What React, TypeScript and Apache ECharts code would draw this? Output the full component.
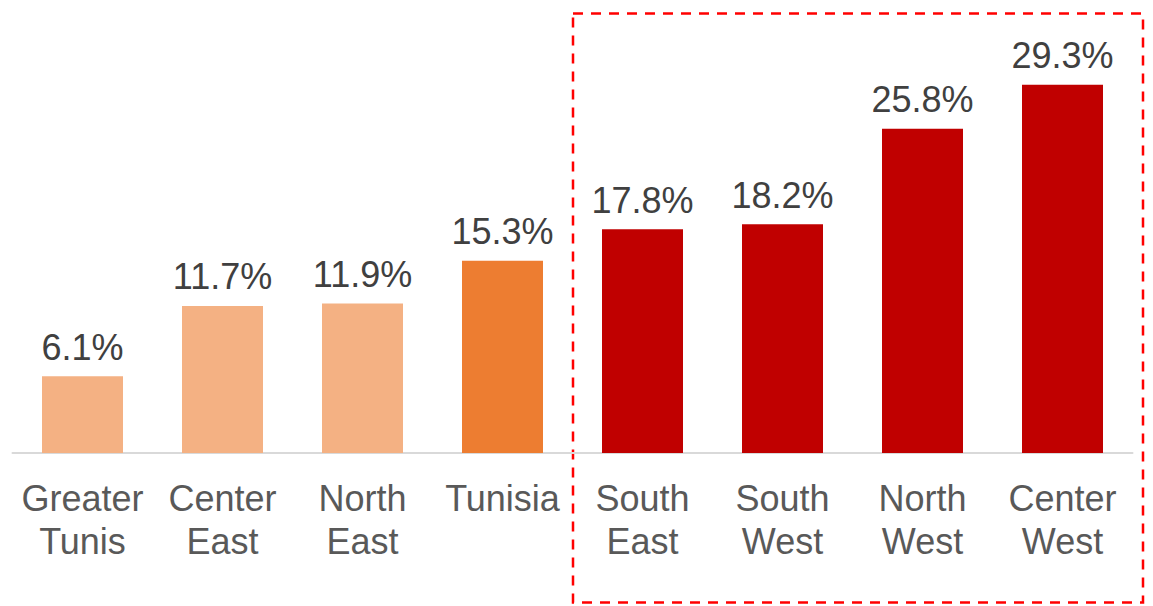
import React, { useEffect, useRef } from "react";
import * as echarts from "echarts";

const categories = [
  "Greater\nTunis",
  "Center\nEast",
  "North\nEast",
  "Tunisia",
  "South\nEast",
  "South\nWest",
  "North\nWest",
  "Center\nWest",
];
const values = [6.1, 11.7, 11.9, 15.3, 17.8, 18.2, 25.8, 29.3];
const groups = ["coastal", "coastal", "coastal", "national", "interior", "interior", "interior", "interior"];

const groupColors: Record<string, string> = {
  coastal: "#F4B183",
  national: "#ED7D31",
  interior: "#C00000",
};

const FONT = "'Liberation Sans', Arial, sans-serif";

export default function App() {
  const ref = useRef<HTMLDivElement>(null);
  useEffect(() => {
    if (!ref.current) return;
    const chart = echarts.init(ref.current, undefined, { renderer: "svg" });
    chart.setOption({
      animation: false,
      backgroundColor: "#ffffff",
      grid: { left: 12.5, right: 20.5, top: 76, bottom: 153, containLabel: false },
      xAxis: {
        type: "category",
        data: categories,
        axisTick: { show: false },
        axisLine: { show: true, lineStyle: { color: "#D9D9D9", width: 2 } },
        axisLabel: {
          color: "#595959",
          fontFamily: FONT,
          fontSize: 36,
          lineHeight: 43,
          margin: 24,
          interval: 0,
        },
      },
      yAxis: {
        type: "value",
        min: 0,
        max: 30,
        show: false,
        splitLine: { show: false },
      },
      series: [
        {
          type: "bar",
          barWidth: 81,
          data: values.map((v, i) => ({
            value: v,
            itemStyle: { color: groupColors[groups[i]] },
          })),
          label: {
            show: true,
            position: "top",
            distance: 11,
            color: "#404040",
            fontFamily: FONT,
            fontSize: 36,
            formatter: (p: any) => `${p.value.toFixed(1)}%`,
          },
        },
      ],
      graphic: [
        {
          type: "rect",
          shape: { x: 573, y: 13.5, width: 570, height: 589 },
          style: {
            fill: "none",
            stroke: "#FF0000",
            lineWidth: 2.5,
            lineDash: [10, 8],
          },
        },
      ],
    });
    return () => chart.dispose();
  }, []);
  return (
    <div
      ref={ref}
      style={{ position: "fixed", left: 0, top: 0, width: 1153, height: 606 }}
    />
  );
}
